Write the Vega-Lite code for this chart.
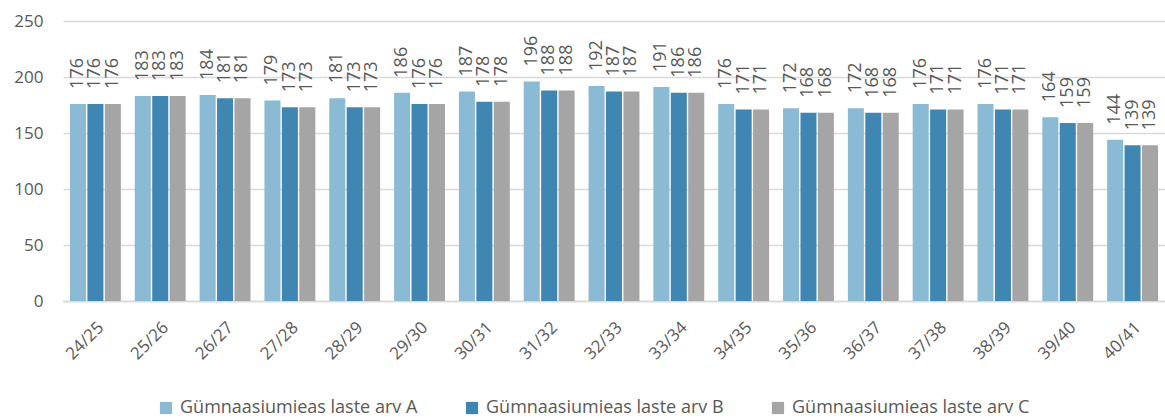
{
  "$schema": "https://vega.github.io/schema/vega-lite/v6.json",
  "autosize": {"type": "none"},
  "padding": {"left": 63, "top": 21, "right": 0, "bottom": 117},
  "width": 1102,
  "height": 280,
  "config": {
    "view": {"stroke": null},
    "font": "Open Sans",
    "text": {"font": "Open Sans"}
  },
  "data": {
    "values": [
      {"p": "24/25", "s": "Gümnaasiumieas laste arv A", "v": 176},
      {"p": "24/25", "s": "Gümnaasiumieas laste arv B", "v": 176},
      {"p": "24/25", "s": "Gümnaasiumieas laste arv C", "v": 176},
      {"p": "25/26", "s": "Gümnaasiumieas laste arv A", "v": 183},
      {"p": "25/26", "s": "Gümnaasiumieas laste arv B", "v": 183},
      {"p": "25/26", "s": "Gümnaasiumieas laste arv C", "v": 183},
      {"p": "26/27", "s": "Gümnaasiumieas laste arv A", "v": 184},
      {"p": "26/27", "s": "Gümnaasiumieas laste arv B", "v": 181},
      {"p": "26/27", "s": "Gümnaasiumieas laste arv C", "v": 181},
      {"p": "27/28", "s": "Gümnaasiumieas laste arv A", "v": 179},
      {"p": "27/28", "s": "Gümnaasiumieas laste arv B", "v": 173},
      {"p": "27/28", "s": "Gümnaasiumieas laste arv C", "v": 173},
      {"p": "28/29", "s": "Gümnaasiumieas laste arv A", "v": 181},
      {"p": "28/29", "s": "Gümnaasiumieas laste arv B", "v": 173},
      {"p": "28/29", "s": "Gümnaasiumieas laste arv C", "v": 173},
      {"p": "29/30", "s": "Gümnaasiumieas laste arv A", "v": 186},
      {"p": "29/30", "s": "Gümnaasiumieas laste arv B", "v": 176},
      {"p": "29/30", "s": "Gümnaasiumieas laste arv C", "v": 176},
      {"p": "30/31", "s": "Gümnaasiumieas laste arv A", "v": 187},
      {"p": "30/31", "s": "Gümnaasiumieas laste arv B", "v": 178},
      {"p": "30/31", "s": "Gümnaasiumieas laste arv C", "v": 178},
      {"p": "31/32", "s": "Gümnaasiumieas laste arv A", "v": 196},
      {"p": "31/32", "s": "Gümnaasiumieas laste arv B", "v": 188},
      {"p": "31/32", "s": "Gümnaasiumieas laste arv C", "v": 188},
      {"p": "32/33", "s": "Gümnaasiumieas laste arv A", "v": 192},
      {"p": "32/33", "s": "Gümnaasiumieas laste arv B", "v": 187},
      {"p": "32/33", "s": "Gümnaasiumieas laste arv C", "v": 187},
      {"p": "33/34", "s": "Gümnaasiumieas laste arv A", "v": 191},
      {"p": "33/34", "s": "Gümnaasiumieas laste arv B", "v": 186},
      {"p": "33/34", "s": "Gümnaasiumieas laste arv C", "v": 186},
      {"p": "34/35", "s": "Gümnaasiumieas laste arv A", "v": 176},
      {"p": "34/35", "s": "Gümnaasiumieas laste arv B", "v": 171},
      {"p": "34/35", "s": "Gümnaasiumieas laste arv C", "v": 171},
      {"p": "35/36", "s": "Gümnaasiumieas laste arv A", "v": 172},
      {"p": "35/36", "s": "Gümnaasiumieas laste arv B", "v": 168},
      {"p": "35/36", "s": "Gümnaasiumieas laste arv C", "v": 168},
      {"p": "36/37", "s": "Gümnaasiumieas laste arv A", "v": 172},
      {"p": "36/37", "s": "Gümnaasiumieas laste arv B", "v": 168},
      {"p": "36/37", "s": "Gümnaasiumieas laste arv C", "v": 168},
      {"p": "37/38", "s": "Gümnaasiumieas laste arv A", "v": 176},
      {"p": "37/38", "s": "Gümnaasiumieas laste arv B", "v": 171},
      {"p": "37/38", "s": "Gümnaasiumieas laste arv C", "v": 171},
      {"p": "38/39", "s": "Gümnaasiumieas laste arv A", "v": 176},
      {"p": "38/39", "s": "Gümnaasiumieas laste arv B", "v": 171},
      {"p": "38/39", "s": "Gümnaasiumieas laste arv C", "v": 171},
      {"p": "39/40", "s": "Gümnaasiumieas laste arv A", "v": 164},
      {"p": "39/40", "s": "Gümnaasiumieas laste arv B", "v": 159},
      {"p": "39/40", "s": "Gümnaasiumieas laste arv C", "v": 159},
      {"p": "40/41", "s": "Gümnaasiumieas laste arv A", "v": 144},
      {"p": "40/41", "s": "Gümnaasiumieas laste arv B", "v": 139},
      {"p": "40/41", "s": "Gümnaasiumieas laste arv C", "v": 139}
    ]
  },
  "encoding": {
    "x": {
      "field": "p",
      "type": "nominal",
      "sort": null,
      "title": null,
      "scale": {"paddingInner": 0.215, "paddingOuter": 0.1075},
      "axis": {
        "labelAngle": -45,
        "labelFontSize": 17,
        "labelColor": "#595959",
        "labelPadding": 18,
        "ticks": false,
        "domainColor": "#D9D9D9",
        "domainWidth": 1.5,
        "grid": false
      }
    },
    "xOffset": {
      "field": "s",
      "type": "nominal",
      "scale": {"paddingInner": 0.08, "paddingOuter": 0}
    },
    "y": {
      "field": "v",
      "type": "quantitative",
      "title": null,
      "scale": {"domain": [0, 250], "nice": false},
      "axis": {
        "values": [0, 50, 100, 150, 200, 250],
        "domain": false,
        "ticks": false,
        "labelFontSize": 17,
        "labelColor": "#595959",
        "labelPadding": 20,
        "gridColor": "#D9D9D9",
        "gridWidth": 1.5
      }
    }
  },
  "layer": [
    {
      "mark": {"type": "bar"},
      "encoding": {
        "color": {
          "field": "s",
          "type": "nominal",
          "title": null,
          "scale": {
            "domain": ["Gümnaasiumieas laste arv A", "Gümnaasiumieas laste arv B", "Gümnaasiumieas laste arv C"],
            "range": ["#8BBAD5", "#3F87B2", "#A5A5A5"]
          },
          "legend": {
            "orient": "none",
            "legendX": 94,
            "legendY": 378,
            "direction": "horizontal",
            "symbolType": "square",
            "symbolSize": 150,
            "symbolStrokeWidth": 0,
            "labelFontSize": 18,
            "labelLimit": 0,
            "labelColor": "#595959",
            "labelOffset": 5,
            "columnPadding": 45
          }
        }
      }
    },
    {
      "mark": {
        "type": "text",
        "angle": 270,
        "align": "left",
        "baseline": "middle",
        "dx": 15,
        "fontSize": 18,
        "color": "#595959"
      },
      "encoding": {
        "text": {"field": "v", "type": "quantitative"}
      }
    }
  ]
}
